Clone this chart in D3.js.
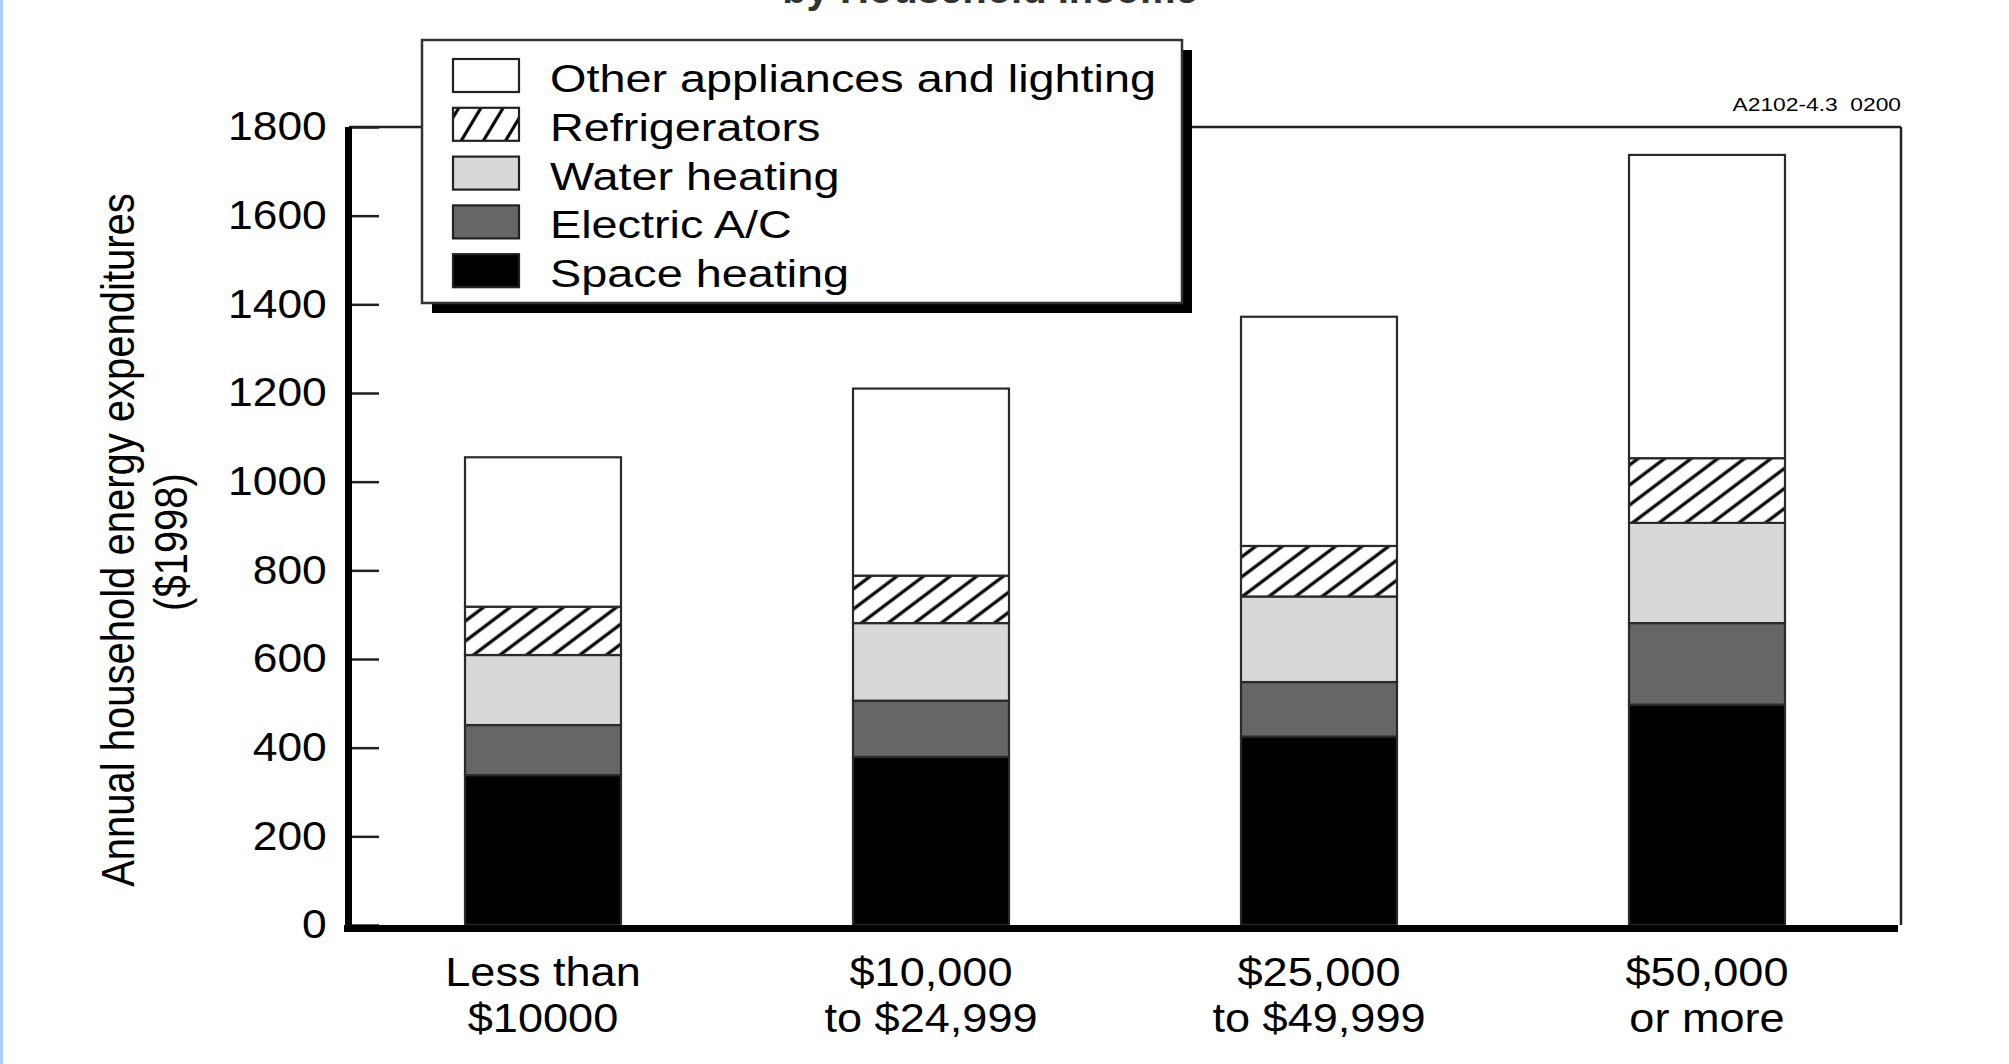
<!DOCTYPE html>
<html>
<head>
<meta charset="utf-8">
<title>Annual household energy expenditures by income</title>
<script src="https://cdn.jsdelivr.net/npm/d3@7"></script>
<style>
  body{margin:0;background:#fff;}
  svg{display:block;}
  text{font-family:"Liberation Sans",Arial,Helvetica,sans-serif;fill:#000;}
</style>
</head>
<body>
<div id="chart"></div>
<script>
// income groups, two lines each
var categories = [["Less than","$10000"],["$10,000","to $24,999"],["$25,000","to $49,999"],["$50,000","or more"]];
// series from bottom to top of each bar
var seriesNames = ["Space heating","Electric A/C","Water heating","Refrigerators","Other appliances and lighting"];
var spaceHeating    = [338, 379, 425, 497];
var electricAC      = [113, 127, 123, 184];
var waterHeating    = [158, 175, 193, 226];
var refrigerators   = [109, 107, 114, 146];
var otherAppliances = [337, 422, 517, 684];
var yTicks = [0,200,400,600,800,1000,1200,1400,1600,1800];

var width = 2009, height = 1064;
var plotLeft = 349, plotRight = 1901, plotTop = 127, plotBottom = 925;

var svg = d3.select("#chart").append("svg")
  .attr("width",width)
  .attr("height",height);

// patterns for the refrigerator hatch
var defs = svg.append("defs");
function hatch(id, size, angle){
  var p = defs.append("pattern")
    .attr("id",id)
    .attr("patternUnits","userSpaceOnUse")
    .attr("width",size).attr("height",size)
    .attr("patternTransform","rotate("+angle+")");
  p.append("rect").attr("width",size).attr("height",size).attr("fill","#fff");
  p.append("line").attr("x1",size/2).attr("x2",size/2).attr("y1",0).attr("y2",size)
    .attr("stroke","#000").attr("stroke-width",3.2);
}
hatch("hatch",16,53);
hatch("hatchLegend",19,31);

// light blue page edge
svg.append("rect").attr("x",0).attr("y",0).attr("width",3).attr("height",height).attr("fill","#a6cff7");

// text stretched sideways like the scanned figure
function wideText(parent, x, y, str, size, sx, anchor){
  var g = parent.append("g").attr("transform","translate("+x+","+y+") scale("+sx+",1)");
  g.append("text").attr("text-anchor",anchor||"start").style("font-size",size+"px")
    .style("white-space","pre").text(str);
  return g;
}

// clipped title at the very top
svg.append("text").attr("x",990).attr("y",3).attr("text-anchor","middle")
  .style("font-size","40px").style("font-weight","bold").style("fill","#333")
  .text("by Household Income");

var table = categories.map(function(c,i){
  return {cat:c.join(" "),
    "Space heating":spaceHeating[i],
    "Electric A/C":electricAC[i],
    "Water heating":waterHeating[i],
    "Refrigerators":refrigerators[i],
    "Other appliances and lighting":otherAppliances[i]};
});

var x = d3.scaleBand()
  .domain(table.map(function(d){return d.cat;}))
  .range([plotLeft,plotRight])
  .paddingInner(0.598).paddingOuter(0.299);
var y = d3.scaleLinear().domain([0,1800]).range([plotBottom,plotTop]);

var fills = {
  "Space heating":"#000",
  "Electric A/C":"#666666",
  "Water heating":"#d8d8d8",
  "Refrigerators":"url(#hatch)",
  "Other appliances and lighting":"#fff"
};

// frame top and right
svg.append("line").attr("x1",plotLeft).attr("x2",plotRight).attr("y1",plotTop).attr("y2",plotTop)
  .attr("stroke","#222").attr("stroke-width",2.5);
svg.append("line").attr("x1",plotRight).attr("x2",plotRight).attr("y1",plotTop).attr("y2",plotBottom)
  .attr("stroke","#222").attr("stroke-width",2.5);

// y axis with ticks pointing inside
var yAxis = svg.append("g")
  .attr("transform","translate("+plotLeft+",0)")
  .call(d3.axisLeft(y).tickValues(yTicks).tickFormat(d3.format("d"))
    .tickSizeInner(-30).tickSizeOuter(0).tickPadding(20));
yAxis.select(".domain").remove();
yAxis.selectAll(".tick line").attr("stroke","#222").attr("stroke-width",2.5);
yAxis.selectAll(".tick text")
  .style("font-size","40px")
  .attr("transform","scale(1.11,1)")
  .attr("x",-20);

// stacked bars
var stack = d3.stack().keys(seriesNames);
var layers = svg.selectAll(".layer")
  .data(stack(table))
  .enter().append("g").attr("class","layer")
  .attr("fill",function(d){return fills[d.key];});
layers.selectAll("rect")
  .data(function(d){return d;})
  .enter().append("rect")
  .attr("x",function(d){return x(d.data.cat);})
  .attr("y",function(d){return y(d[1]);})
  .attr("width",x.bandwidth())
  .attr("height",function(d){return y(d[0])-y(d[1]);})
  .attr("stroke","#2a2a2a")
  .attr("stroke-width",2.2);

// thick axis lines
svg.append("rect").attr("x",plotLeft-4).attr("y",plotTop).attr("width",7).attr("height",plotBottom-plotTop+7).attr("fill","#000");
svg.append("rect").attr("x",plotLeft-5).attr("y",plotBottom).attr("width",plotRight-plotLeft+2).attr("height",7).attr("fill","#000");

// x labels
table.forEach(function(d,i){
  var cx = x(d.cat)+x.bandwidth()/2;
  wideText(svg, cx, 986, categories[i][0], 41, 1.1, "middle");
  wideText(svg, cx, 1032, categories[i][1], 41, 1.1, "middle");
});

// y title
var yt = svg.append("g");
yt.append("text").attr("transform","translate(134,540) rotate(-90) scale(1,1.15)")
  .attr("text-anchor","middle").style("font-size","40px")
  .text("Annual household energy expenditures");
yt.append("text").attr("transform","translate(187,542) rotate(-90) scale(1,1.15)")
  .attr("text-anchor","middle").style("font-size","40px")
  .text("($1998)");

// figure code
wideText(svg, plotRight, 111, "A2102-4.3  0200", 19, 1.2, "end");

// legend box with drop shadow
var legend = svg.append("g").attr("transform","translate(422,40)");
legend.append("rect").attr("x",10).attr("y",10).attr("width",760).attr("height",263).attr("fill","#000");
legend.append("rect").attr("width",760).attr("height",263).attr("fill","#fff")
  .attr("stroke","#333").attr("stroke-width",2.5);
var legendKeys = seriesNames.slice().reverse();
var legendFills = {"Refrigerators":"url(#hatchLegend)"};
legendKeys.forEach(function(k,i){
  var ly = 19 + i*48.8;
  legend.append("rect").attr("x",31).attr("y",ly).attr("width",66).attr("height",33)
    .attr("fill",legendFills[k]||fills[k]).attr("stroke","#222").attr("stroke-width",2.2);
  wideText(legend, 128, ly+33, k, 39, 1.2, "start");
});
</script>
</body>
</html>
